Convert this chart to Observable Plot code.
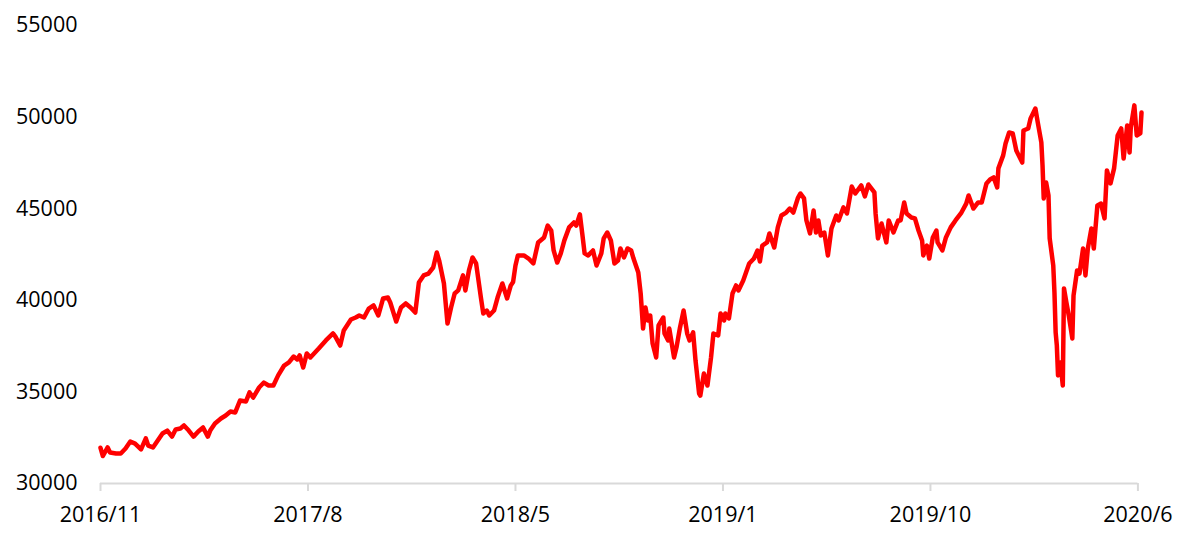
<!DOCTYPE html>
<html><head><meta charset="utf-8">
<script src="https://cdn.jsdelivr.net/npm/d3@7"></script>
<script src="https://cdn.jsdelivr.net/npm/@observablehq/plot@0.6"></script>
<style>body{margin:0;background:#fff}</style>
</head><body><div id="chart"></div>
<script>
// trading-day index of each sampled point
const days = [0,2,6,8,13,17,21,25,29,34,38,40,44,48,52,56,60,63,67,70,74,78,82,86,90,92,96,101,105,109,113,117,122,125,128,133,137,141,145,149,154,158,162,165,167,170,173,176,183,189,195,197,201,204,210,214,217,221,225,229,233,237,241,243,248,252,256,260,264,267,271,275,279,282,284,288,291,294,297,300,304,306,309,312,315,319,321,324,326,330,333,337,341,344,346,348,350,355,359,363,367,372,375,378,380,383,386,389,393,397,399,402,404,406,409,413,416,420,422,425,428,431,434,436,439,442,445,447,451,453,455,457,459,461,463,466,468,472,473,476,477,481,483,486,489,492,494,497,499,502,503,506,509,512,514,518,520,523,524,527,530,533,535,539,544,548,551,553,555,559,561,565,568,571,575,578,581,585,587,590,592,595,598,600,602,604,607,610,613,617,619,623,626,630,633,638,641,644,649,650,652,655,659,661,665,669,671,674,676,680,683,686,689,690,693,695,698,701,702,706,709,713,717,722,726,728,732,736,739,743,746,749,752,753,757,759,762,765,768,770,773,774,778,780,784,786,789,790,791,793,795,796,799,800,801,802,803,805,807,808,810,812,815,816,819,821,824,826,828,831,833,836,839,842,844,847,850,853,856,858,861,863,864,867,869,872,873];
// index level
const values = [31950,31500,31970,31690,31640,31640,31910,32290,32180,31860,32460,32070,31970,32350,32730,32890,32560,32950,33000,33170,32890,32560,32840,33060,32560,32890,33280,33550,33710,33930,33880,34530,34480,34970,34690,35240,35510,35350,35350,35900,36440,36610,36930,36770,36990,36330,37100,36880,37370,37810,38190,38020,37530,38350,38950,39060,39170,39060,39550,39720,39170,40100,40150,39880,38840,39610,39830,39610,39330,40970,41360,41460,41790,42610,42170,40920,38730,39610,40370,40540,41360,40540,41630,42340,42010,40150,39280,39440,39170,39440,40150,40920,40100,40800,41000,41900,42450,42450,42280,42010,43160,43430,44080,43810,42720,42060,42560,43270,43980,44250,44080,44690,43650,42560,42450,42720,41900,42560,43380,43700,43270,42010,42170,42830,42340,42830,42720,42280,41520,40370,38460,39610,38900,39170,37640,36880,38630,39060,38190,37810,38460,36880,37420,38520,39440,38190,37810,38250,36710,34910,34800,36000,35350,36880,38190,38080,39280,38900,39280,39010,40370,40810,40540,41080,42010,42280,42720,42120,42990,43160,43650,42880,43980,44630,44790,45010,44790,45610,45830,45560,44360,43650,44900,43700,44360,43540,43700,42450,43920,44630,44360,45070,44740,46210,45830,46270,45670,46320,45890,44740,43380,44190,43160,44360,43700,44360,44360,45340,44740,44520,44470,43810,43270,42450,42990,42280,43430,43810,43160,42720,43430,43980,44360,44790,45280,45720,45010,45340,45340,46380,46600,46710,46160,47200,47910,48560,49160,49110,48180,47910,47520,49270,49380,49930,50470,49710,48620,47360,45560,46430,45720,43380,41900,40430,38250,37530,35900,36610,35350,40650,39880,39170,37920,40260,41630,41460,42830,41360,42830,43920,42830,45180,45280,44470,47090,46380,47200,49000,49380,47740,49540,48070,49430,50640,49000,49110,50250];
const tickDays = [0,174,348,522,696,870];
const tickLabels = ["2016/11","2017/8","2018/5","2019/1","2019/10","2020/6"];
const yTicks = [30000,35000,40000,45000,50000,55000];

const data = days.map((d,i)=>({day:d, value:values[i]}));

const chart = Plot.plot({
  width:1190, height:540,
  marginLeft:100, marginRight:49, marginTop:25, marginBottom:57,
  style:{fontFamily:"'Open Sans', sans-serif", fontSize:"21px", color:"#000", background:"#fff"},
  x:{domain:[0,873], axis:null},
  y:{domain:[30000,55000], axis:null},
  marks:[
    Plot.axisY(yTicks, {tickSize:0, tickPadding:23, fontSize:21.5, fill:"#000", tickFormat:d=>String(d), label:null}),
    Plot.ruleY([30000], {x1:0, x2:870, stroke:"#d9d9d9", strokeWidth:2}),
    Plot.axisX(tickDays, {tickSize:8, tickPadding:15, stroke:"#d9d9d9", strokeWidth:2, fill:"#000", fontSize:21.5,
      tickFormat:d=>tickLabels[tickDays.indexOf(d)], label:null}),
    Plot.line(data, {x:"day", y:"value", stroke:"#ff0000", strokeWidth:4.5, strokeLinejoin:"round", strokeLinecap:"round"})
  ]
});
document.getElementById("chart").appendChild(chart);
</script>
</body></html>
